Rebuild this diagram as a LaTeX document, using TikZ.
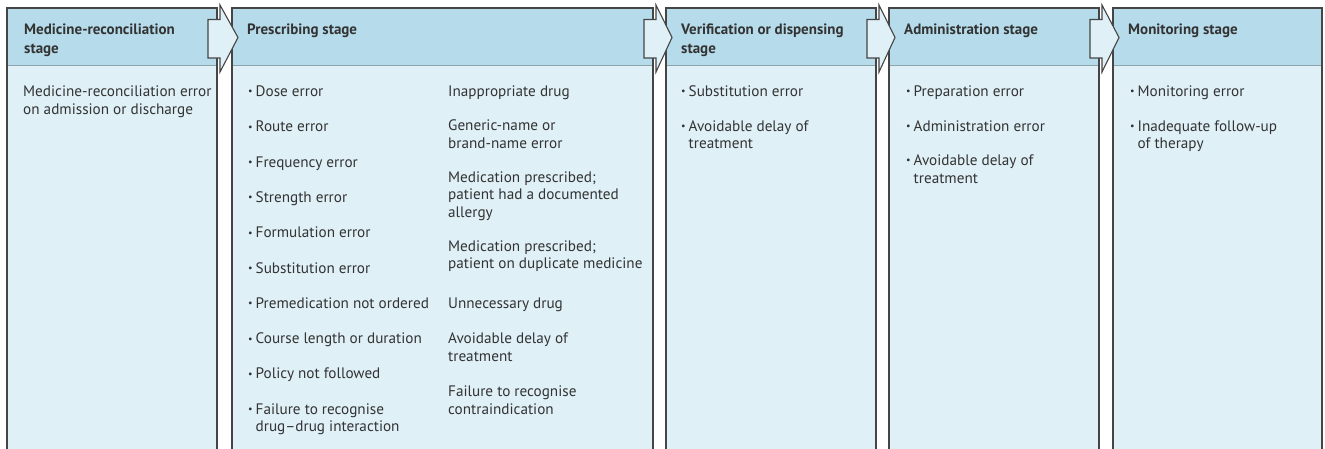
\documentclass[tikz,border=0pt]{standalone}
\usepackage{fontspec}
\setmainfont{PT Sans}
\usetikzlibrary{calc}

\definecolor{hdrblue}{HTML}{B6DCEB}
\definecolor{bodyblue}{HTML}{DFF0F7}
\definecolor{edge}{HTML}{454545}
\definecolor{txt}{HTML}{333333}
\definecolor{sep}{HTML}{8FA3AB}

\tikzset{
  hdrband/.style={fill=hdrblue, draw=none, inner sep=0pt, outer sep=0pt,
    minimum height=57pt, anchor=north west},
  bodyband/.style={fill=bodyblue, draw=none, inner sep=0pt, outer sep=0pt,
    minimum height=384pt, anchor=north west},
  frame/.style={draw=edge, line width=1.3pt},
  sepline/.style={draw=sep, line width=0.7pt},
  flow/.style={draw=edge, fill=bodyblue, line width=1.1pt, line join=miter},
  hdrtext/.style={anchor=base west, inner sep=0pt, text=txt,
    font=\fontsize{15}{18.5}\selectfont\bfseries},
  itemtext/.style={anchor=base west, inner sep=0pt, text=txt,
    font=\fontsize{15.2}{17.5}\selectfont},
  bullet/.style={anchor=base west, inner sep=0pt, text=txt,
    font=\fontsize{10}{10}\selectfont},
}

% stacked lines whose baseline is the first one
\newcommand\lines[1]{\begin{tabular}[t]{@{}l@{}}#1\end{tabular}}

% one stage column: name, left x, right x
\newcommand\stagecol[3]{%
  \node[hdrband, minimum width={#3-#2}] (h#1) at (#2,8) {};
  \node[bodyband, minimum width={#3-#2}] (b#1) at (#2,65) {};
  \draw[sepline] (h#1.south west) -- (h#1.south east);
  \draw[frame] (b#1.south west) -- (h#1.north west) -- (h#1.north east) -- (b#1.south east);
}

% block arrow from one header into the next
\newcommand\flowarrow[2]{%
  \draw[flow] ($(h#1.north east)+(-9,11.5)$) -- ($(h#1.north east)+(3,11.5)$)
    -- ($(h#1.north east)+(3,-3)$) -- ($(h#2.north west)+(6,29.5)$)
    -- ($(h#1.north east)+(3,64)$) -- ($(h#1.north east)+(3,50)$)
    -- ($(h#1.north east)+(-9,50)$) -- cycle;
}

% bulleted entry: name, x, baseline y, text
\newcommand\bul[4]{%
  \node[bullet] (#1b) at (#2+1,#3-1.6) {\textbullet};
  \node[itemtext] (#1) at (#2+8.5,#3) {\lines{#4}};
}

\begin{document}
\begin{tikzpicture}[x=1pt, y=-1pt]
\useasboundingbox (0,0) rectangle (1325,448);
\fill[white] (0,0) rectangle (1325,448);

\stagecol{1}{7}{217}
\stagecol{2}{232}{653}
\stagecol{3}{666}{876}
\stagecol{4}{889}{1099}
\stagecol{5}{1113}{1322}

\flowarrow{1}{2}
\flowarrow{2}{3}
\flowarrow{3}{4}
\flowarrow{4}{5}

% headers
\node[hdrtext] (t1) at (24,34.5) {\lines{Medicine-reconciliation\\stage}};
\node[hdrtext] (t2) at (247,34.5) {Prescribing stage};
\node[hdrtext] (t3) at (681,34.5) {\lines{Verification or dispensing\\stage}};
\node[hdrtext] (t4) at (904,34.5) {Administration stage};
\node[hdrtext] (t5) at (1128,34.5) {Monitoring stage};

% medicine reconciliation
\node[itemtext] (m1) at (23,96.5) {\lines{Medicine-reconciliation error\\on admission or discharge}};

% prescribing, left column
\bul{p1}{247}{96.5}{Dose error}
\bul{p2}{247}{131.8}{Route error}
\bul{p3}{247}{167.1}{Frequency error}
\bul{p4}{247}{202.4}{Strength error}
\bul{p5}{247}{237.7}{Formulation error}
\bul{p6}{247}{273}{Substitution error}
\bul{p7}{247}{308.3}{Premedication not ordered}
\bul{p8}{247}{343.6}{Course length or duration}
\bul{p9}{247}{378.9}{Policy not followed}
\bul{p10}{247}{414.2}{Failure to recognise\\drug--drug interaction}

% prescribing, right column
\node[itemtext] (q1) at (448,96.5) {Inappropriate drug};
\node[itemtext] (q2) at (448,130.5) {\lines{Generic-name or\\brand-name error}};
\node[itemtext] (q3) at (448,182) {\lines{Medication prescribed;\\patient had a documented\\allergy}};
\node[itemtext] (q4) at (448,251) {\lines{Medication prescribed;\\patient on duplicate medicine}};
\node[itemtext] (q5) at (448,308.3) {Unnecessary drug};
\node[itemtext] (q6) at (448,343.6) {\lines{Avoidable delay of\\treatment}};
\node[itemtext] (q7) at (448,396.5) {\lines{Failure to recognise\\contraindication}};

% verification or dispensing
\bul{v1}{680}{96.5}{Substitution error}
\bul{v2}{680}{131}{Avoidable delay of\\treatment}

% administration
\bul{a1}{905}{96.5}{Preparation error}
\bul{a2}{905}{131}{Administration error}
\bul{a3}{905}{165.5}{Avoidable delay of\\treatment}

% monitoring
\bul{n1}{1129}{96.5}{Monitoring error}
\bul{n2}{1129}{131}{Inadequate follow-up\\of therapy}
\end{tikzpicture}
\end{document}
